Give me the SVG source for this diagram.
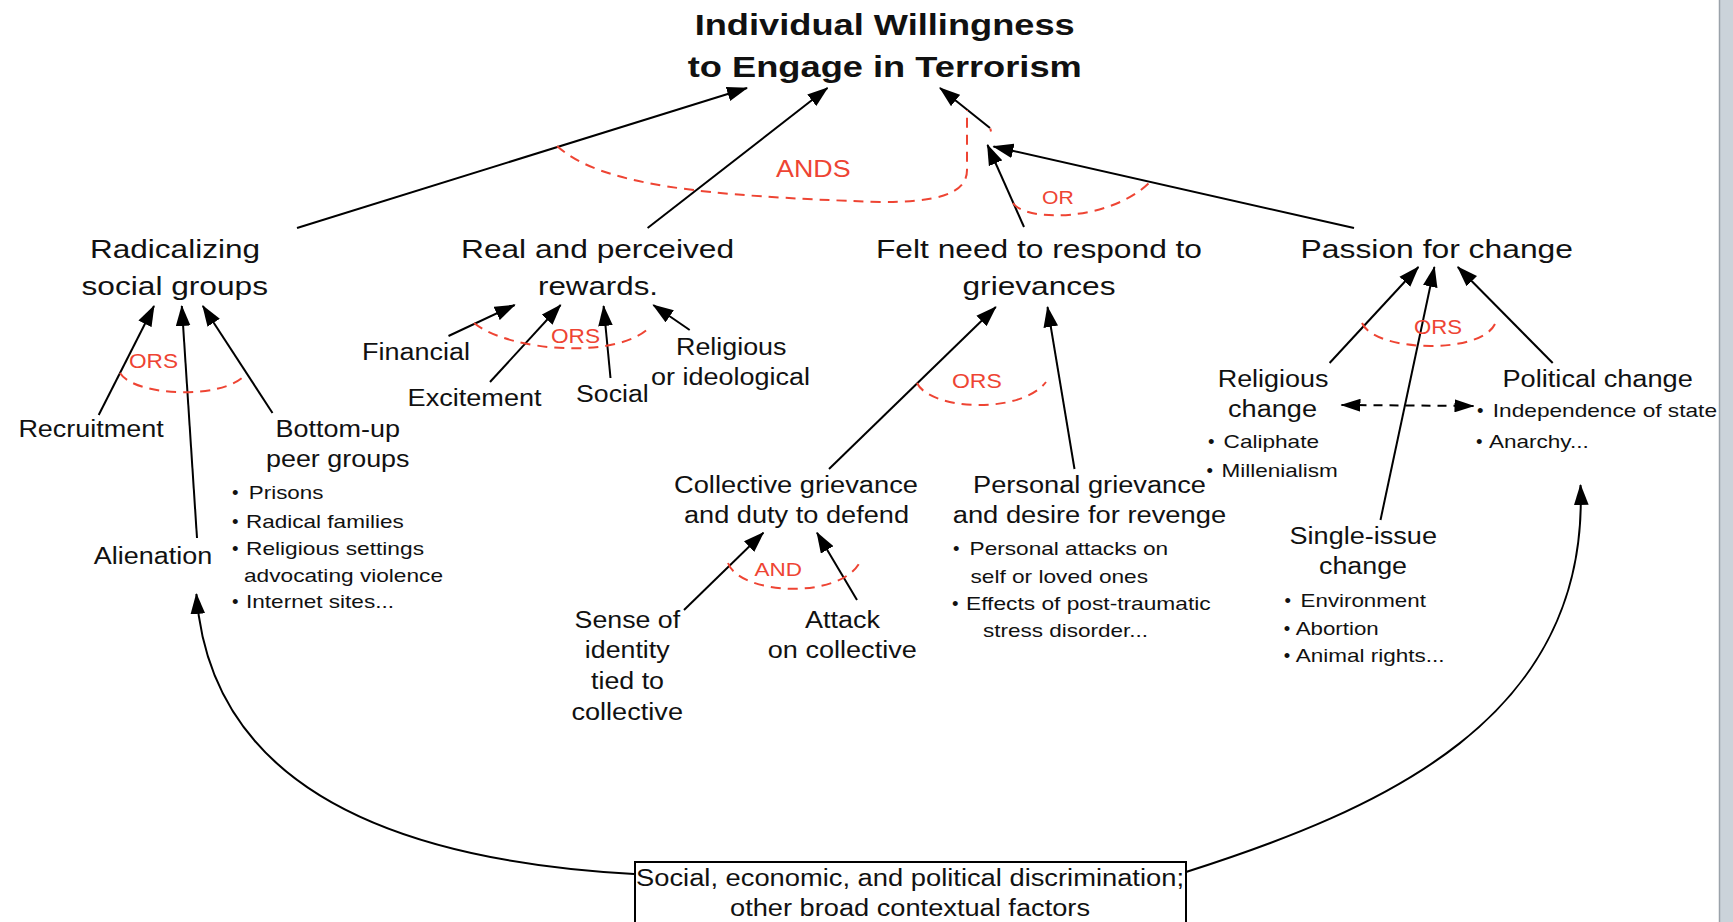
<svg xmlns="http://www.w3.org/2000/svg" width="1733" height="922" viewBox="0 0 1733 922">
<defs>
<marker id="ah" markerUnits="userSpaceOnUse" markerWidth="21" markerHeight="15" viewBox="0 0 20 14" refX="19" refY="7" orient="auto-start-reverse">
<path d="M0,0 L20,7 L0,14 z" fill="#000"/>
</marker>
<marker id="ahs" markerUnits="userSpaceOnUse" markerWidth="20" markerHeight="13" viewBox="0 0 20 13" refX="19" refY="6.5" orient="auto-start-reverse">
<path d="M0,0 L20,6.5 L0,13 z" fill="#000"/>
</marker>
</defs>
<style>
text{font-family:"Liberation Sans",Arial,Helvetica,sans-serif;fill:#111}
.title{font-size:30px;font-weight:bold}
.main{font-size:26.5px}
.sub{font-size:23px}
.bul{font-size:18.5px}
.box{font-size:23px}
.lg{font-size:20px;fill:#ee4433}
.conn{fill:none;stroke:#000;stroke-width:2}
.arr{marker-end:url(#ah)}
.dbl{fill:none;stroke:#000;stroke-width:2;stroke-dasharray:9 7;marker-start:url(#ahs);marker-end:url(#ahs)}
.red{fill:none;stroke:#ee4433;stroke-width:2;stroke-dasharray:10 7}
</style>
<rect x="0" y="0" width="1733" height="922" fill="#fff"/>
<rect x="1719" y="0" width="14" height="922" fill="#cbd3da"/>
<line x1="1719.5" y1="0" x2="1719.5" y2="922" stroke="#9aa2aa" stroke-width="1.5"/>

<g id="connectors">
<path class="conn arr" d="M297,228 L747,88"/>
<path class="conn arr" d="M647.6,228 L827.5,88"/>
<path class="conn arr" d="M990,128 L940,88"/>
<path class="conn arr" d="M1024,227 L987.5,145"/>
<path class="conn arr" d="M1354,228 L993.5,146.5"/>
<path class="conn arr" d="M98.7,415 L154,306"/>
<path class="conn arr" d="M197,538 L181.8,306"/>
<path class="conn arr" d="M272.5,413 L202.8,306"/>
<path class="conn arr" d="M448.5,336 L514.7,305"/>
<path class="conn arr" d="M490,382 L560.6,305"/>
<path class="conn arr" d="M610.5,378 L603.6,306"/>
<path class="conn arr" d="M689.7,330 L653.3,305"/>
<path class="conn arr" d="M829,469 L995.8,307"/>
<path class="conn arr" d="M1074.5,469 L1047.5,307"/>
<path class="conn arr" d="M684,610 L763.4,532.7"/>
<path class="conn arr" d="M857,600 L817,532.7"/>
<path class="conn arr" d="M1329.6,363 L1418.4,267"/>
<path class="conn arr" d="M1380.5,520 L1434.4,267"/>
<path class="conn arr" d="M1552.7,363 L1457.8,267"/>
<path class="dbl" d="M1341.5,405 L1473.5,406"/>
<path class="conn arr" d="M634,874 C380,860 210,780 196.4,594"/>
<path class="conn arr" d="M1186,872 C1380,810 1590,720 1580.5,485"/>
</g>

<g id="logic">
<path class="red" d="M120,373 C135,397 225,400 246,374"/>
<path class="red" d="M474,323 C510,352 620,360 651,326"/>
<path class="red" d="M557,146 C600,185 700,196 880,202 C935,202 967,195 967,170 L967,110"/>
<path d="M990.3,128.5 L991,131.5" stroke="#ee4433" stroke-width="2" fill="none"/>
<path class="red" d="M1013,203 C1025,222 1110,222 1150,182"/>
<path class="red" d="M917,383 C930,410 1020,415 1046,382"/>
<path class="red" d="M728,563 C740,595 840,600 860,562"/>
<path class="red" d="M1362,323 C1375,352 1480,355 1495,324"/>
<text class="lg" x="129" y="368" textLength="49" lengthAdjust="spacingAndGlyphs">ORS</text>
<text class="lg" x="551" y="343" textLength="49" lengthAdjust="spacingAndGlyphs">ORS</text>
<text class="lg" x="776" y="177" style="font-size:23px" textLength="74.6" lengthAdjust="spacingAndGlyphs">ANDS</text>
<text class="lg" x="1042" y="204" style="font-size:19px" textLength="31.7" lengthAdjust="spacingAndGlyphs">OR</text>
<text class="lg" x="952" y="388" textLength="49.8" lengthAdjust="spacingAndGlyphs">ORS</text>
<text class="lg" x="754.5" y="576" style="font-size:19px" textLength="47.5" lengthAdjust="spacingAndGlyphs">AND</text>
<text class="lg" x="1414" y="334" textLength="48" lengthAdjust="spacingAndGlyphs">ORS</text>
</g>

<g id="title">
<text class="title" x="694.7" y="35" textLength="380" lengthAdjust="spacingAndGlyphs">Individual Willingness</text>
<text class="title" x="687.8" y="77" textLength="394" lengthAdjust="spacingAndGlyphs">to Engage in Terrorism</text>
</g>

<g id="radicalizing">
<text class="main" x="90" y="258" textLength="170" lengthAdjust="spacingAndGlyphs">Radicalizing</text>
<text class="main" x="81.5" y="295" textLength="186.5" lengthAdjust="spacingAndGlyphs">social groups</text>
</g>
<g id="rewards">
<text class="main" x="461" y="258" textLength="273" lengthAdjust="spacingAndGlyphs">Real and perceived</text>
<text class="main" x="538" y="295" textLength="120" lengthAdjust="spacingAndGlyphs">rewards.</text>
</g>
<g id="grievances">
<text class="main" x="876" y="258" textLength="326" lengthAdjust="spacingAndGlyphs">Felt need to respond to</text>
<text class="main" x="962.5" y="295" textLength="153" lengthAdjust="spacingAndGlyphs">grievances</text>
</g>
<g id="passion">
<text class="main" x="1300.6" y="258" textLength="272.4" lengthAdjust="spacingAndGlyphs">Passion for change</text>
</g>

<g id="recruitment">
<text class="sub" x="18.4" y="437.3" textLength="145.4" lengthAdjust="spacingAndGlyphs">Recruitment</text>
</g>
<g id="alienation">
<text class="sub" x="93.8" y="563.5" textLength="118.5" lengthAdjust="spacingAndGlyphs">Alienation</text>
</g>
<g id="bottom-up">
<text class="sub" x="275.5" y="437.3" textLength="124.5" lengthAdjust="spacingAndGlyphs">Bottom-up</text>
<text class="sub" x="266" y="467.3" textLength="143.5" lengthAdjust="spacingAndGlyphs">peer groups</text>
<text class="bul" x="232" y="499.3">•</text>
<text class="bul" x="248.8" y="499.3" textLength="74.6" lengthAdjust="spacingAndGlyphs">Prisons</text>
<text class="bul" x="232" y="527.7">•</text>
<text class="bul" x="246" y="527.7" textLength="157.7" lengthAdjust="spacingAndGlyphs">Radical families</text>
<text class="bul" x="232" y="555">•</text>
<text class="bul" x="246" y="555" textLength="178" lengthAdjust="spacingAndGlyphs">Religious settings</text>
<text class="bul" x="244" y="581.7" textLength="199" lengthAdjust="spacingAndGlyphs">advocating violence</text>
<text class="bul" x="232" y="608.3">•</text>
<text class="bul" x="246" y="608.3" textLength="148" lengthAdjust="spacingAndGlyphs">Internet sites...</text>
</g>

<g id="financial">
<text class="sub" x="362" y="360" textLength="108" lengthAdjust="spacingAndGlyphs">Financial</text>
</g>
<g id="excitement">
<text class="sub" x="407.6" y="406" textLength="134" lengthAdjust="spacingAndGlyphs">Excitement</text>
</g>
<g id="social">
<text class="sub" x="576" y="401.7" textLength="72.7" lengthAdjust="spacingAndGlyphs">Social</text>
</g>
<g id="religious-ideological">
<text class="sub" x="676" y="355" textLength="110.5" lengthAdjust="spacingAndGlyphs">Religious</text>
<text class="sub" x="651" y="385" textLength="159" lengthAdjust="spacingAndGlyphs">or ideological</text>
</g>

<g id="collective-grievance">
<text class="sub" x="674" y="492.7" textLength="244" lengthAdjust="spacingAndGlyphs">Collective grievance</text>
<text class="sub" x="684" y="522.7" textLength="225" lengthAdjust="spacingAndGlyphs">and duty to defend</text>
</g>
<g id="personal-grievance">
<text class="sub" x="973" y="492.7" textLength="233" lengthAdjust="spacingAndGlyphs">Personal grievance</text>
<text class="sub" x="952.7" y="522.7" textLength="273.5" lengthAdjust="spacingAndGlyphs">and desire for revenge</text>
<text class="bul" x="953" y="555">•</text>
<text class="bul" x="969.6" y="555" textLength="198.6" lengthAdjust="spacingAndGlyphs">Personal attacks on</text>
<text class="bul" x="970.5" y="583" textLength="177.5" lengthAdjust="spacingAndGlyphs">self or loved ones</text>
<text class="bul" x="952" y="610">•</text>
<text class="bul" x="966" y="610" textLength="244.7" lengthAdjust="spacingAndGlyphs">Effects of post-traumatic</text>
<text class="bul" x="983" y="636.7" textLength="165" lengthAdjust="spacingAndGlyphs">stress disorder...</text>
</g>
<g id="sense-of-identity">
<text class="sub" x="574.6" y="628.3" textLength="105.6" lengthAdjust="spacingAndGlyphs">Sense of</text>
<text class="sub" x="584.8" y="658.3" textLength="84.8" lengthAdjust="spacingAndGlyphs">identity</text>
<text class="sub" x="591" y="689.3" textLength="73" lengthAdjust="spacingAndGlyphs">tied to</text>
<text class="sub" x="571.4" y="720" textLength="111.6" lengthAdjust="spacingAndGlyphs">collective</text>
</g>
<g id="attack-on-collective">
<text class="sub" x="805" y="628.3" textLength="75" lengthAdjust="spacingAndGlyphs">Attack</text>
<text class="sub" x="767.8" y="658.3" textLength="149" lengthAdjust="spacingAndGlyphs">on collective</text>
</g>

<g id="religious-change">
<text class="sub" x="1217.7" y="387" textLength="110.8" lengthAdjust="spacingAndGlyphs">Religious</text>
<text class="sub" x="1228" y="416.7" textLength="89" lengthAdjust="spacingAndGlyphs">change</text>
<text class="bul" x="1208" y="448">•</text>
<text class="bul" x="1223.6" y="448" textLength="95.4" lengthAdjust="spacingAndGlyphs">Caliphate</text>
<text class="bul" x="1206.5" y="476.7">•</text>
<text class="bul" x="1221.4" y="476.7" textLength="116.4" lengthAdjust="spacingAndGlyphs">Millenialism</text>
</g>
<g id="political-change">
<text class="sub" x="1502.5" y="387" textLength="190.3" lengthAdjust="spacingAndGlyphs">Political change</text>
<text class="bul" x="1477" y="416.7">•</text>
<text class="bul" x="1492.8" y="416.7" textLength="224.2" lengthAdjust="spacingAndGlyphs">Independence of state</text>
<text class="bul" x="1476" y="448">•</text>
<text class="bul" x="1489" y="448" textLength="99.7" lengthAdjust="spacingAndGlyphs">Anarchy...</text>
</g>
<g id="single-issue-change">
<text class="sub" x="1289.5" y="543.5" textLength="147.5" lengthAdjust="spacingAndGlyphs">Single-issue</text>
<text class="sub" x="1319" y="573.5" textLength="88" lengthAdjust="spacingAndGlyphs">change</text>
<text class="bul" x="1284.6" y="606.7">•</text>
<text class="bul" x="1300.6" y="606.7" textLength="125.3" lengthAdjust="spacingAndGlyphs">Environment</text>
<text class="bul" x="1283.8" y="635">•</text>
<text class="bul" x="1295.7" y="635" textLength="83" lengthAdjust="spacingAndGlyphs">Abortion</text>
<text class="bul" x="1283.8" y="661.7">•</text>
<text class="bul" x="1295.7" y="661.7" textLength="148.8" lengthAdjust="spacingAndGlyphs">Animal rights...</text>
</g>

<g id="context">
<rect x="635" y="862" width="551" height="64" fill="#fff" stroke="#000" stroke-width="2"/>
<text class="box" x="636" y="885.5" textLength="548" lengthAdjust="spacingAndGlyphs">Social, economic, and political discrimination;</text>
<text class="box" x="730" y="915.5" textLength="360" lengthAdjust="spacingAndGlyphs">other broad contextual factors</text>
</g>
</svg>
